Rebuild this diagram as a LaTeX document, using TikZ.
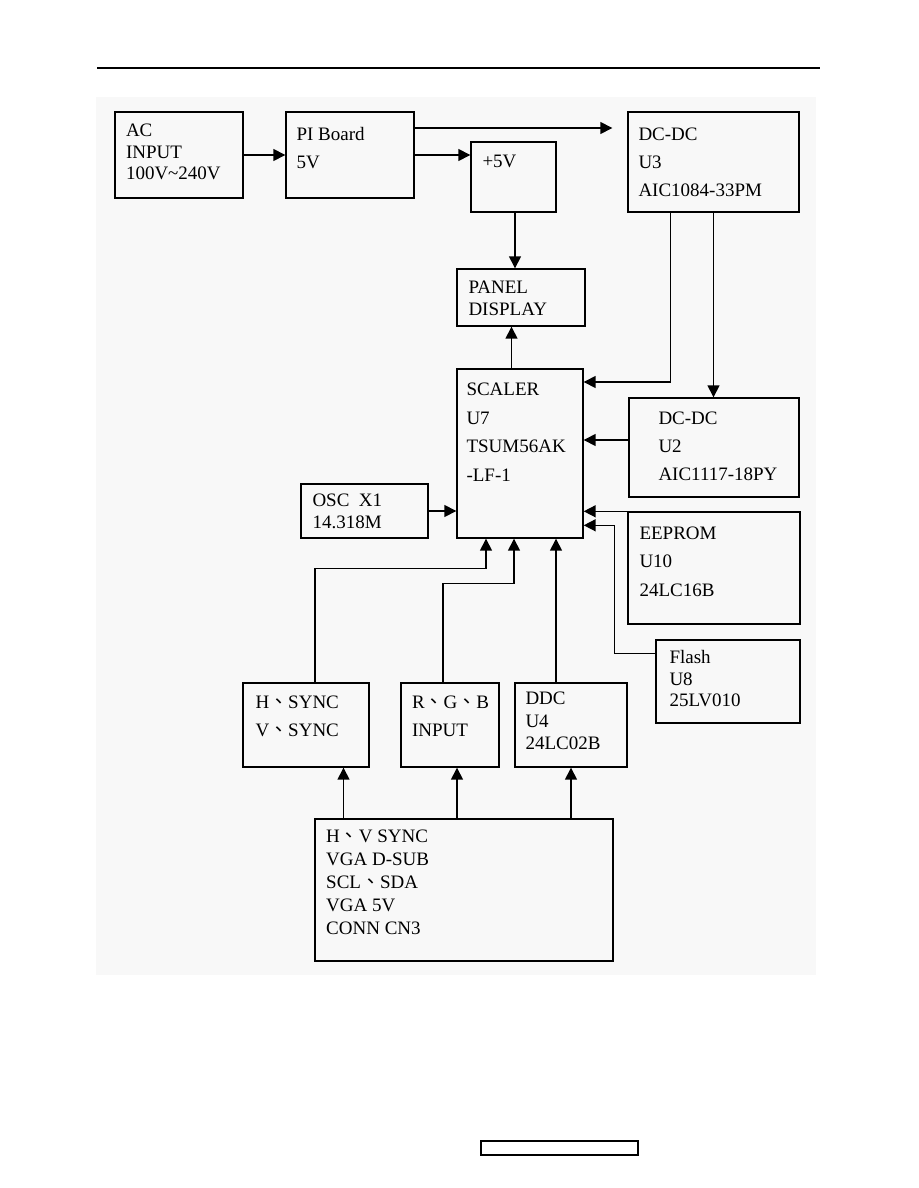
\documentclass[tikz,border=0pt]{standalone}
\usepackage{fontspec}
\setmainfont{Liberation Serif}
\newfontfamily\cjk{Noto Sans CJK TC}
\usetikzlibrary{arrows.meta,positioning}
\definecolor{blkPaper}{HTML}{F8F8F8}
\tikzset{
  blk box/.style={draw=black, line width=1.4pt, inner sep=0pt},
  blk text/.style={inner sep=0pt, align=left, font=\fontsize{19pt}{#1}\selectfont},
  blk text/.default=22pt,
  blk wire/.style={draw=black, line width=1.5pt},
  blk arrow/.style={blk wire, -{Triangle[length=12pt,width=12pt]}},
}
\newcommand{\ideocomma}{{\cjk 、}}

\begin{document}
\begin{tikzpicture}[x=1pt, y=-1pt]
  \useasboundingbox (0,0) rectangle (918,1188);
  \fill[blkPaper] (96,97) rectangle (816,975);
  \draw[line width=2.2pt] (97,68) -- (820,68);
  \draw[line width=1.4pt] (481,1141) rectangle (638,1155);

  % power section
  \node[blk box, minimum width=128pt, minimum height=86pt] (ac) at (179,155) {};
  \node[blk text=21.7pt, below right=12.5pt and 11.5pt of ac.north west] (actxt) {AC\\INPUT\\100V\textasciitilde 240V};
  \node[blk box, minimum width=128pt, minimum height=86pt] (pib) at (350,155) {};
  \node[blk text=28pt, below right=16.2pt and 11pt of pib.north west] (pibtxt) {PI Board\\5V};
  \node[blk box, minimum width=85pt, minimum height=70pt] (pfive) at (513.5,177) {};
  \node[blk text, below right=13.2pt and 12pt of pfive.north west] (pfivetxt) {+5V};
  \node[blk box, minimum width=171pt, minimum height=100pt] (dcthree) at (713.5,162) {};
  \node[blk text=27.7pt, below right=16.7pt and 11pt of dcthree.north west] (dcthreetxt) {DC-DC\\U3\\AIC1084-33PM};
  \node[blk box, minimum width=128pt, minimum height=57pt] (panel) at (521,297.5) {};
  \node[blk text=22.5pt, below right=12.2pt and 12pt of panel.north west] (paneltxt) {PANEL\\DISPLAY};

  % scaler and its neighbours
  \node[blk box, minimum width=126pt, minimum height=169pt] (scaler) at (520,453.5) {};
  \node[blk text=28.5pt, below right=14.7pt and 10pt of scaler.north west] (scalertxt) {SCALER\\U7\\TSUM56AK\\-LF-1};
  \node[blk box, minimum width=170pt, minimum height=99pt] (dctwo) at (714,447.5) {};
  \node[blk text=28pt, below right=14.9pt and 30pt of dctwo.north west] (dctwotxt) {DC-DC\\U2\\AIC1117-18PY};
  \node[blk box, minimum width=127pt, minimum height=54pt] (osc) at (364.5,511) {};
  \node[blk text=22pt, below right=10.2pt and 12pt of osc.north west] (osctxt) {OSC\ \ X1\\14.318M};
  \node[blk box, minimum width=172pt, minimum height=112pt] (eeprom) at (714,568) {};
  \node[blk text=28.5pt, below right=15.2pt and 12pt of eeprom.north west] (eepromtxt) {EEPROM\\U10\\24LC16B};
  \node[blk box, minimum width=144pt, minimum height=83pt] (flash) at (728,681.5) {};
  \node[blk text=21.5pt, below right=11.2pt and 14pt of flash.north west] (flashtxt) {Flash\\U8\\25LV010};

  % input section
  \node[blk box, minimum width=126pt, minimum height=84pt] (hvsync) at (306,725) {};
  \node[blk text=28pt, below right=13.2pt and 13pt of hvsync.north west] (hvsynctxt) {H\ideocomma SYNC\\V\ideocomma SYNC};
  \node[blk box, minimum width=98pt, minimum height=84pt] (rgb) at (450,725) {};
  \node[blk text=28pt, below right=13.2pt and 11.5pt of rgb.north west] (rgbtxt) {R\ideocomma G\ideocomma B\\INPUT};
  \node[blk box, minimum width=112pt, minimum height=84pt] (ddc) at (571,725) {};
  \node[blk text=22.5pt, below right=9.7pt and 11pt of ddc.north west] (ddctxt) {DDC\\U4\\24LC02B};
  \node[blk box, minimum width=298pt, minimum height=142pt] (conn) at (464,890) {};
  \node[blk text=23pt, below right=11.2pt and 11.7pt of conn.north west] (conntxt) {H\ideocomma V SYNC\\VGA D-SUB\\SCL\ideocomma SDA\\VGA 5V\\CONN CN3};

  % connectors
  \draw[blk arrow] (ac.east) -- (pib.west);
  \draw[blk arrow] (pib.east) -- (pib.east -| pfive.west);
  \draw[blk arrow, shorten >=15pt] ([yshift=27pt]pib.east) -- ([yshift=27pt]pib.east -| dcthree.west);
  \draw[blk arrow] ([xshift=1.5pt]pfive.south) -- ([xshift=1.5pt]pfive.south |- panel.north);
  \draw[blk arrow] ([xshift=-8.5pt]scaler.north) -- ([xshift=-8.5pt]scaler.north |- panel.south);
  \draw[blk arrow] ([xshift=-43pt]dcthree.south) |- ([yshift=71.5pt]scaler.east);
  \draw[blk arrow] (dcthree.south) -- (dcthree.south |- dctwo.north);
  \draw[blk arrow] ([yshift=7.5pt]dctwo.west) -- ([yshift=7.5pt]dctwo.west -| scaler.east);
  \draw[blk arrow] (osc.east) -- (osc.east -| scaler.west);
  \draw[blk arrow] (eeprom.north west) -- (eeprom.north west -| scaler.east);
  \draw[blk arrow] ([yshift=-14pt]flash.north west) -- ++(-41pt,0) |- ([yshift=-14pt]eeprom.north west -| scaler.east);
  \draw[blk arrow] ([xshift=9pt]hvsync.north) |- ([xshift=-34pt,yshift=-30pt]scaler.south) -- ([xshift=-34pt]scaler.south);
  \draw[blk arrow] ([xshift=-7pt]rgb.north) |- ([xshift=-6pt,yshift=-45pt]scaler.south) -- ([xshift=-6pt]scaler.south);
  \draw[blk arrow] ([xshift=-15pt]ddc.north) -- ([xshift=-15pt]ddc.north |- scaler.south);
  \draw[blk arrow] ([xshift=-120.5pt]conn.north) -- ([xshift=-120.5pt]conn.north |- hvsync.south);
  \draw[blk arrow] ([xshift=-7pt]conn.north) -- ([xshift=-7pt]conn.north |- rgb.south);
  \draw[blk arrow] (conn.north -| ddc.south) -- (ddc.south);
\end{tikzpicture}
\end{document}
